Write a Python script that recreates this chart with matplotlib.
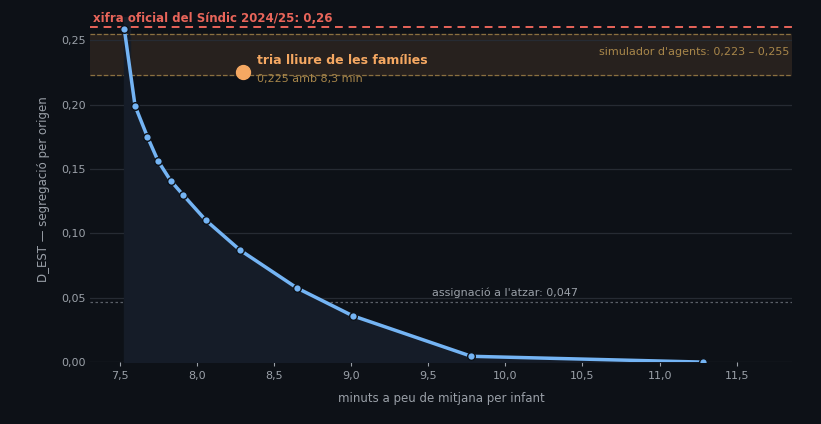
import matplotlib
matplotlib.use('Agg')
import matplotlib.pyplot as plt
from matplotlib.ticker import FuncFormatter

minuts = [7.53, 7.60, 7.68, 7.75, 7.83, 7.91, 8.06, 8.28, 8.65, 9.01, 9.78, 11.28]
d_est = [0.259, 0.199, 0.175, 0.156, 0.141, 0.130, 0.110, 0.087, 0.0575, 0.036, 0.0045, 0.0]
sindic = 0.26
agents = (0.223, 0.255)
atzar = 0.047
tria_x, tria_y = 8.3, 0.225

bg = '#0d1117'
blue = '#74b4f4'
orange = '#f5a862'

fig, ax = plt.subplots(figsize=(8.21, 4.24), dpi=100)
fig.patch.set_facecolor(bg)
ax.set_facecolor(bg)
fig.subplots_adjust(left=0.11, right=0.965, bottom=0.146, top=0.96)

ax.axhspan(agents[0], agents[1], color='#27211e', zorder=0)
for v in agents:
    ax.axhline(v, color='#8a7040', lw=0.9, ls='--', zorder=1)
ax.axhline(sindic, color='#e8655a', lw=1.4, ls=(0, (4, 3)), zorder=2)
ax.axhline(atzar, color='#5b6068', lw=0.9, ls=(0, (2, 2)), zorder=1)
ax.axvspan(minuts[0], minuts[0] + 0.04, color='#161d27', zorder=0)

ax.fill_between(minuts, d_est, 0, color='#151c28', zorder=1)
ax.plot(minuts, d_est, color=blue, lw=2.5, marker='o', ms=5.5,
        mfc=blue, mec=bg, mew=1, zorder=4)
ax.plot([tria_x], [tria_y], 'o', color=orange, ms=10, zorder=5)

ax.text(tria_x + 0.09, tria_y + 0.0045, 'tria lliure de les famílies', color=orange,
        fontsize=9, fontweight='bold', va='bottom')
ax.text(tria_x + 0.09, tria_y - 0.001, '0,225 amb 8,3 min', color='#a8864a',
        fontsize=8, va='top')
ax.text(7.33, sindic + 0.002, 'xifra oficial del Síndic 2024/25: 0,26', color='#e8655a',
        fontsize=8.5, fontweight='bold', va='bottom')
ax.text(11.84, 0.2405, "simulador d'agents: 0,223 – 0,255", color='#a8864a',
        fontsize=8, ha='right', va='center')
ax.text(10.0, atzar + 0.003, "assignació a l'atzar: 0,047", color='#9aa0a8',
        fontsize=8, ha='center', va='bottom')

ax.set_xlim(7.31, 11.86)
ax.set_ylim(0, 0.268)
ax.set_xticks([7.5, 8.0, 8.5, 9.0, 9.5, 10.0, 10.5, 11.0, 11.5])
ax.set_yticks([0, 0.05, 0.10, 0.15, 0.20, 0.25])
ax.xaxis.set_major_formatter(FuncFormatter(lambda v, p: f'{v:.1f}'.replace('.', ',')))
ax.yaxis.set_major_formatter(FuncFormatter(lambda v, p: f'{v:.2f}'.replace('.', ',')))
ax.grid(axis='y', color='#262b33', lw=0.9)
ax.set_axisbelow(True)
for s in ax.spines.values():
    s.set_visible(False)
ax.tick_params(colors='#9aa0a8', labelsize=8, length=3)
ax.tick_params(axis='y', length=0)
ax.set_xlabel('minuts a peu de mitjana per infant', color='#9aa0a8', fontsize=8.5, labelpad=8)
ax.set_ylabel('D_EST — segregació per origen', color='#9aa0a8', fontsize=8.5, labelpad=8)

fig.savefig('out.png', dpi=100, facecolor=bg)
